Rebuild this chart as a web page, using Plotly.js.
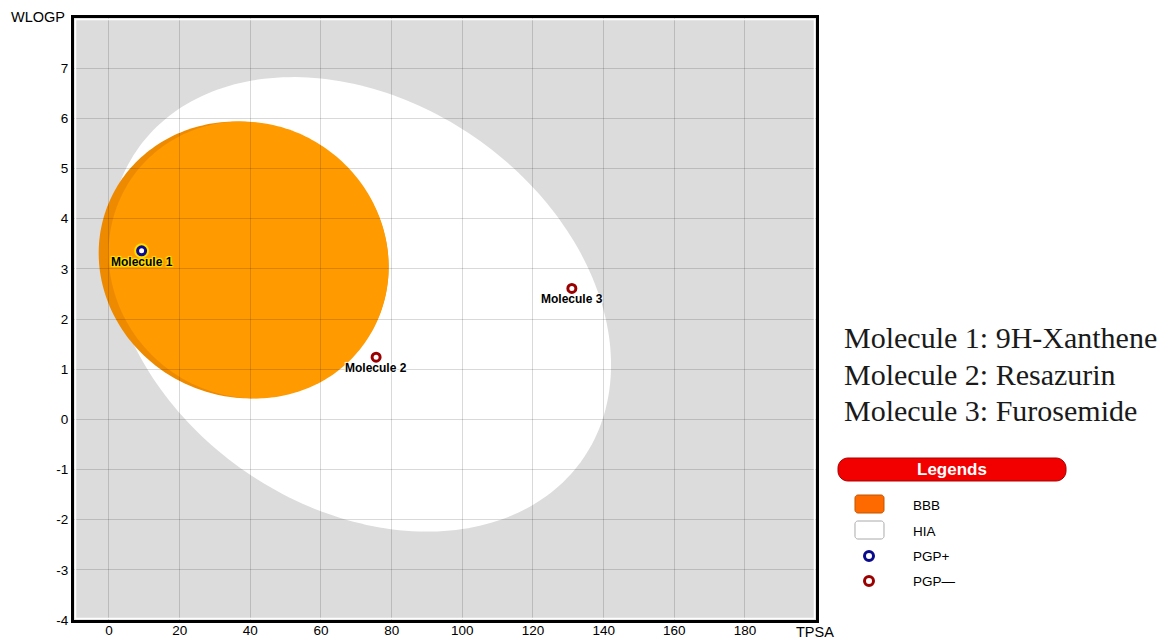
<!DOCTYPE html>
<html>
<head>
<meta charset="utf-8">
<script src="https://cdn.plot.ly/plotly-3.0.1.min.js"></script>
<style>
html,body{margin:0;padding:0;background:#fff;}
#chart{width:1163px;height:640px;}
</style>
</head>
<body>
<div id="chart"></div>
<script>
// ---- data ----
const molecules = ["Molecule 1", "Molecule 2", "Molecule 3"];
const names = ["9H-Xanthene", "Resazurin", "Furosemide"];
const tpsa = [9.23, 75.6, 131.0];
const wlogp = [3.36, 1.24, 2.61];
const pgp = ["+", "-", "-"];
const xTicks = [0, 20, 40, 60, 80, 100, 120, 140, 160, 180];
const yTicks = [-4, -3, -2, -1, 0, 1, 2, 3, 4, 5, 6, 7];
const legendLabels = ["BBB", "HIA", "PGP+", "PGP\u2014"];
// ellipse parameters (centre, half extents in TPSA / WLOGP, skew)
const hiaEllipse = {cx: 71.051, cy: 2.292, rx: 71.04, ry: 4.53, skew: 0.27};
const bbbEllipse = {cx: 38.117, cy: 3.177, rx: 41.03, ry: 2.76, skew: 0.05};

// ---- geometry helpers ----
const W = 1163, H = 640;
const M = {l: 74, r: 347, t: 18, b: 20};
const PW = W - M.l - M.r, PH = H - M.t - M.b;
function px(X) { return (X - M.l) / PW; }
function py(Y) { return (H - M.b - Y) / PH; }

function ellipsePath(e, dx, drx) {
  const n = 240;
  let s = "";
  for (let i = 0; i <= n; i++) {
    const t = 2 * Math.PI * i / n;
    const x = e.cx + (dx || 0) + (e.rx + (drx || 0)) * Math.cos(t);
    const y = e.cy + e.ry * Math.sin(t - e.skew);
    s += (i === 0 ? "M" : "L") + x.toFixed(4) + "," + y.toFixed(4);
  }
  return s + "Z";
}
function roundRectPath(x0, y0, x1, y1, r) {
  const pts = [];
  const seg = 8;
  function arc(cx, cy, a0, a1) {
    for (let k = 0; k <= seg; k++) {
      const a = a0 + (a1 - a0) * k / seg;
      pts.push([cx + r * Math.cos(a), cy + r * Math.sin(a)]);
    }
  }
  arc(x1 - r, y0 + r, -Math.PI / 2, 0);
  arc(x1 - r, y1 - r, 0, Math.PI / 2);
  arc(x0 + r, y1 - r, Math.PI / 2, Math.PI);
  arc(x0 + r, y0 + r, Math.PI, 1.5 * Math.PI);
  return pts.map((p, i) => (i === 0 ? "M" : "L") + px(p[0]).toFixed(5) + "," + py(p[1]).toFixed(5)).join("") + "Z";
}

const ringColor = pgp.map(p => p === "+" ? "#0a0a8c" : "#9b0000");
const glowColor = pgp.map(p => p === "+" ? "rgba(255,230,0,0.9)" : "rgba(0,0,0,0)");

const traces = [
  {
    type: "scatter", mode: "markers", x: tpsa, y: wlogp, hoverinfo: "skip",
    marker: {size: 15, color: glowColor, line: {width: 0}}, showlegend: false
  },
  {
    type: "scatter", mode: "markers", x: tpsa, y: wlogp, text: molecules,
    marker: {size: 8, color: "#ffffff", line: {width: 3, color: ringColor}}, showlegend: false
  }
];

const shapes = [
  {type: "path", xref: "x", yref: "y", path: ellipsePath(hiaEllipse), fillcolor: "#ffffff", line: {width: 0}, layer: "below"},
  {type: "path", xref: "x", yref: "y", path: ellipsePath(bbbEllipse), fillcolor: "#ee8a00", line: {width: 0}, layer: "below"},
  {type: "path", xref: "x", yref: "y", path: ellipsePath(bbbEllipse, 1.4, -1.4), fillcolor: "#ff9a00", line: {width: 0}, layer: "below"},
  // inner white rim of the frame
  {type: "rect", xref: "paper", yref: "paper", x0: px(75.5), x1: px(814.5), y0: py(618.5), y1: py(19.5), line: {color: "#ffffff", width: 1.5}, fillcolor: "rgba(0,0,0,0)", layer: "above"},
  // legend bar
  {type: "path", xref: "paper", yref: "paper", path: roundRectPath(838, 458, 1066, 481, 10), fillcolor: "#f20000", line: {color: "#a80000", width: 1}},
  {type: "path", xref: "paper", yref: "paper", path: roundRectPath(855, 495, 884, 513, 3), fillcolor: "#ff6a00", line: {color: "#c05400", width: 1}},
  {type: "path", xref: "paper", yref: "paper", path: roundRectPath(855, 521, 884, 539, 3), fillcolor: "#ffffff", line: {color: "#aaaaaa", width: 1}},
  {type: "circle", xref: "paper", yref: "paper", x0: px(864.5), x1: px(873.5), y0: py(560.5), y1: py(551.5), fillcolor: "#ffffff", line: {color: "#0a0a8c", width: 3}},
  {type: "circle", xref: "paper", yref: "paper", x0: px(864.5), x1: px(873.5), y0: py(585.5), y1: py(576.5), fillcolor: "#ffffff", line: {color: "#9b0000", width: 3}}
];

const labelFont = "Liberation Sans, Arial, sans-serif";
const annotations = [];
molecules.forEach((m, i) => {
  annotations.push({
    x: tpsa[i], y: wlogp[i], xref: "x", yref: "y", text: m, showarrow: false,
    yshift: -11, xanchor: "center", yanchor: "middle",
    font: {family: labelFont, size: 12, color: "#000", weight: "bold",
      shadow: pgp[i] === "+" ? "1px 1px 1px #ffe600, -1px -1px 1px #ffe600, 1px -1px 1px #ffe600, -1px 1px 1px #ffe600" : "1px 1px 1px #fff, -1px -1px 1px #fff"}
  });
});
molecules.forEach((m, i) => {
  annotations.push({
    x: px(842), y: py([338, 375, 410][i]), xref: "paper", yref: "paper", xanchor: "left", yanchor: "middle",
    text: m + ": " + names[i], showarrow: false,
    font: {family: "Liberation Serif, Times New Roman, serif", size: 30, color: "#1a1a1a"}
  });
});
annotations.push({x: px(38), y: py(17), xref: "paper", yref: "paper", text: "WLOGP", showarrow: false, xanchor: "center", yanchor: "middle",
  font: {family: labelFont, size: 14.5, color: "#000"}});
annotations.push({x: px(815), y: py(632), xref: "paper", yref: "paper", text: "TPSA", showarrow: false, xanchor: "center", yanchor: "middle",
  font: {family: labelFont, size: 14.5, color: "#000"}});
annotations.push({x: px(952), y: py(469.5), xref: "paper", yref: "paper", text: "Legends", showarrow: false, xanchor: "center", yanchor: "middle",
  font: {family: labelFont, size: 17, color: "#ffffff", weight: "bold"}});
legendLabels.forEach((l, i) => {
  annotations.push({x: px(911), y: py([505, 531, 556, 581][i]), xref: "paper", yref: "paper", text: l, showarrow: false,
    xanchor: "left", yanchor: "middle", font: {family: labelFont, size: 13.5, color: "#000"}});
});

const layout = {
  width: W, height: H,
  margin: M,
  paper_bgcolor: "#ffffff",
  plot_bgcolor: "#dcdcdc",
  showlegend: false,
  xaxis: {
    range: [-9.9, 200.1], tickvals: xTicks, ticktext: xTicks.map(String),
    showgrid: true, gridcolor: "rgba(0,0,0,0.15)", gridwidth: 1, zeroline: false,
    showline: true, linecolor: "#000", linewidth: 3, mirror: true, ticks: "",
    ticklabelstandoff: -4,
    tickfont: {family: labelFont, size: 13.5, color: "#000"}
  },
  yaxis: {
    range: [-4, 8], tickvals: yTicks, ticktext: yTicks.map(String),
    showgrid: true, gridcolor: "rgba(0,0,0,0.15)", gridwidth: 1, zeroline: false,
    showline: true, linecolor: "#000", linewidth: 3, mirror: true, ticks: "",
    tickfont: {family: labelFont, size: 13.5, color: "#000"}
  },
  shapes: shapes,
  annotations: annotations
};

Plotly.newPlot("chart", traces, layout, {displayModeBar: false, staticPlot: true});
</script>
</body>
</html>
